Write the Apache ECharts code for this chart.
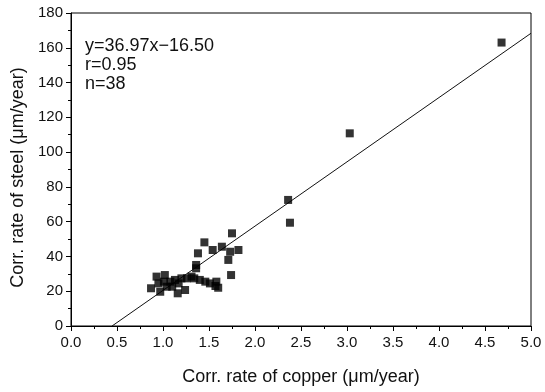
<!DOCTYPE html>
<html>
<head>
<meta charset="utf-8">
<script src="https://cdn.jsdelivr.net/npm/echarts@6/dist/echarts.min.js"></script>
<style>html,body{margin:0;padding:0;background:#fff}#c{width:545px;height:392px}</style>
</head>
<body>
<div id="c"></div>
<script>
// copper corrosion rate (µm/year)
var copperRate = [4.68, 3.03, 2.36, 2.38,
  1.75, 1.45, 1.38, 1.54, 1.64, 1.73, 1.82, 1.71, 1.74, 1.36, 1.36, 1.34, 1.40, 1.46, 1.51, 1.57,
  1.58, 1.60, 1.26, 1.31, 1.20, 1.17, 1.24, 1.16, 1.10, 1.04, 1.02, 0.93, 0.95, 0.97, 0.87, 1.01, 1.08, 1.13];
// steel corrosion rate (µm/year)
var steelRate = [163, 110.8, 72.5, 59.4,
  53.3, 48.1, 41.8, 43.7, 45.6, 42.7, 43.7, 38.0, 29.3, 35.1, 33.2, 27.4, 26.5, 25.5, 24.5, 23.0,
  25.5, 22.0, 27.4, 28.4, 27.4, 24.5, 20.7, 18.8, 22.6, 22.6, 29.3, 28.4, 24.5, 19.7, 21.7, 25.5, 25.5, 26.5];
var fitSlope = 36.97;
var fitIntercept = -16.50;
var xMax = 5.0;
var annotationLines = ['y=36.97x\u221216.50', 'r=0.95', 'n=38'];

var pts = copperRate.map(function (x, i) { return [x, steelRate[i]]; });
var x0 = -fitIntercept / fitSlope;
var fitLine = [[x0, 0], [xMax, fitSlope * xMax + fitIntercept]];

var chart = echarts.init(document.getElementById('c'), null, {renderer: 'canvas'});
var fontFam = '"Liberation Sans", Arial, Helvetica, sans-serif';
chart.setOption({
  animation: false,
  backgroundColor: '#fff',
  grid: {left: 71, right: 14, top: 13, bottom: 66, show: true, borderColor: '#000', borderWidth: 1, backgroundColor: 'transparent'},
  xAxis: {
    type: 'value', min: 0, max: 5, interval: 0.5,
    name: 'Corr. rate of copper (\u03bcm/year)', nameLocation: 'middle', nameGap: 42,
    nameTextStyle: {color: '#111', fontSize: 18, fontFamily: fontFam},
    axisLine: {lineStyle: {color: '#000', width: 1}},
    axisTick: {show: true, inside: false, length: 5, lineStyle: {color: '#000'}},
    minorTick: {show: true, splitNumber: 2, length: 3, lineStyle: {color: '#000'}},
    splitLine: {show: false},
    axisLabel: {color: '#111', fontSize: 15, fontFamily: fontFam, margin: 9,
      formatter: function (v) { return v.toFixed(1); }}
  },
  yAxis: {
    type: 'value', min: 0, max: 180, interval: 20,
    name: 'Corr. rate of steel (\u03bcm/year)', nameLocation: 'middle', nameGap: 40,
    nameTextStyle: {color: '#111', fontSize: 18, fontFamily: fontFam, padding: [0, 16, 0, 0]},
    axisLine: {show: true, lineStyle: {color: '#000', width: 1}},
    axisTick: {show: true, inside: false, length: 5, lineStyle: {color: '#000'}},
    minorTick: {show: true, splitNumber: 2, length: 3, lineStyle: {color: '#000'}},
    splitLine: {show: false},
    axisLabel: {color: '#111', fontSize: 15, fontFamily: fontFam, margin: 8}
  },
  graphic: [{
    type: 'text', left: 85, top: 37,
    style: {text: annotationLines.join('\n'), fill: '#111', font: '18px ' + fontFam, lineHeight: 19}
  }],
  series: [{
    type: 'line', data: fitLine, showSymbol: false, symbol: 'none',
    lineStyle: {color: '#111', width: 1}, z: 2
  }, {
    type: 'scatter', data: pts, symbol: 'rect', symbolSize: 8,
    itemStyle: {color: '#000'}, z: 3
  }]
});
</script>
</body>
</html>
